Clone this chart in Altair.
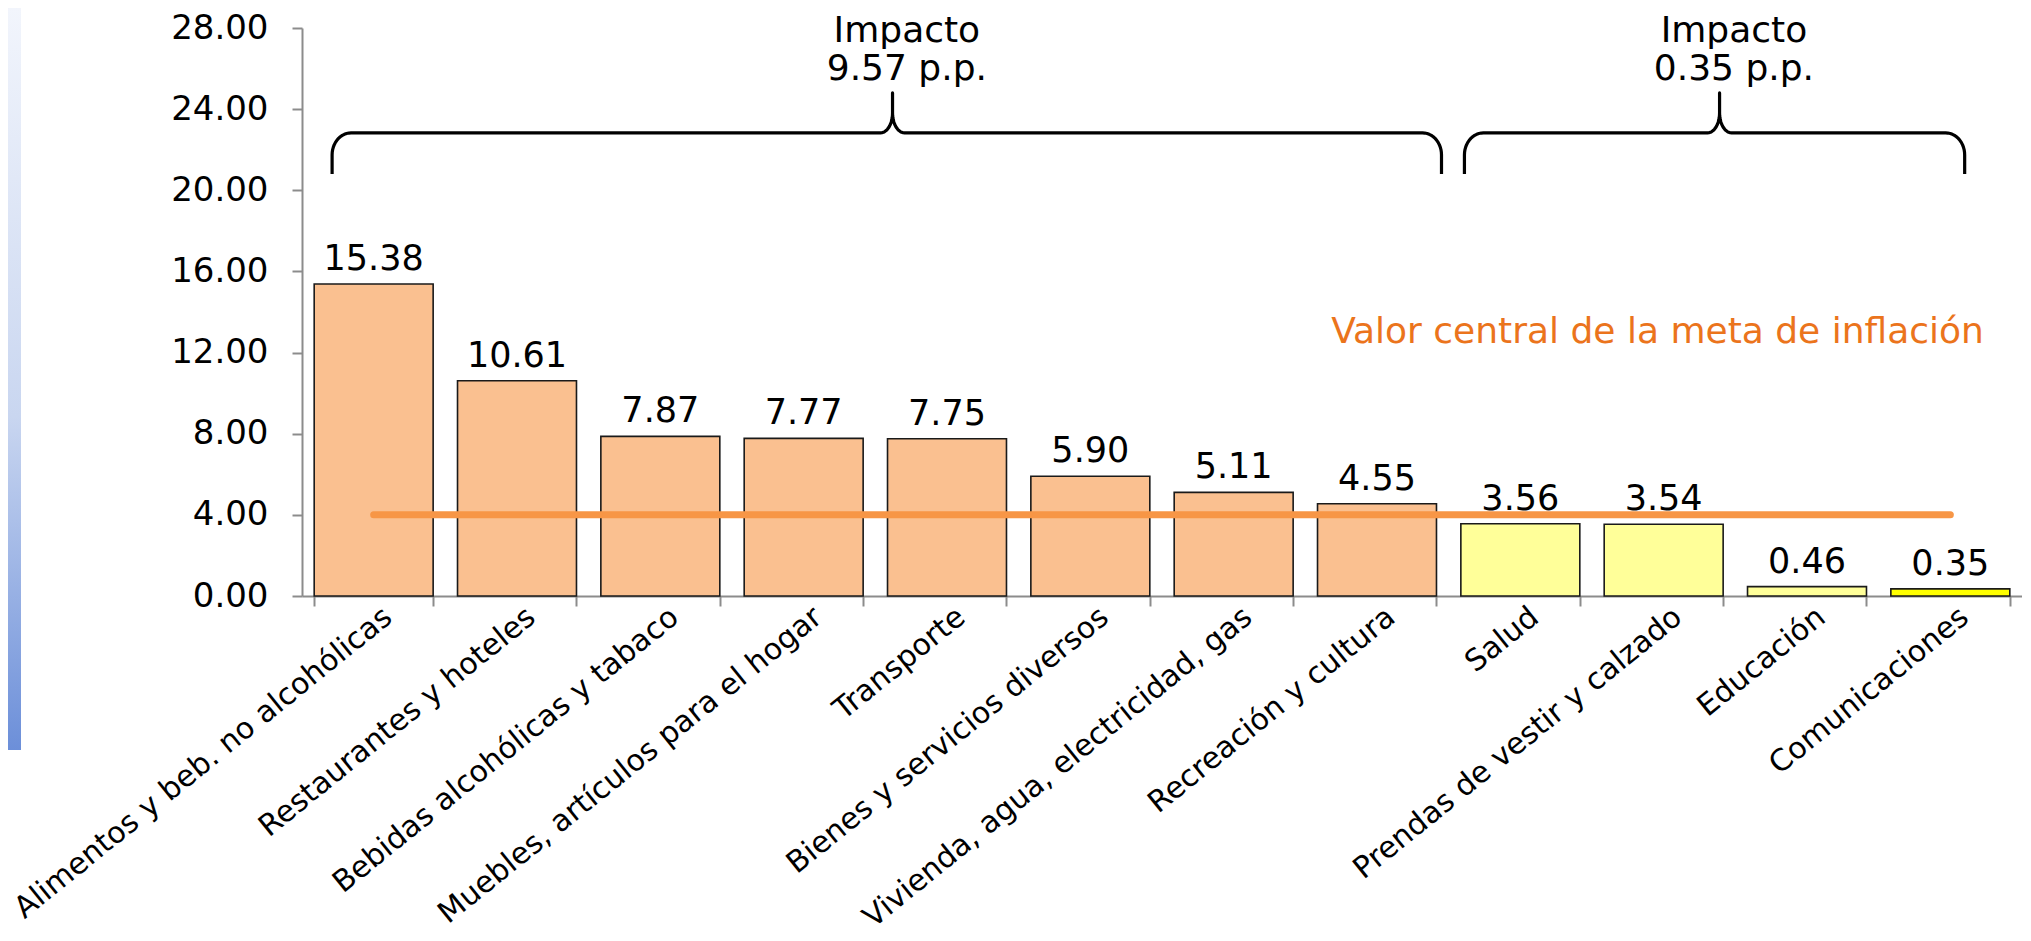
import altair as alt
import numpy as np
import pandas as pd

# ---------------- data ----------------
categorias = [
    "Alimentos y beb. no alcohólicas",
    "Restaurantes y hoteles",
    "Bebidas alcohólicas y tabaco",
    "Muebles, artículos para el hogar",
    "Transporte",
    "Bienes y servicios diversos",
    "Vivienda, agua, electricidad, gas",
    "Recreación y cultura",
    "Salud",
    "Prendas de vestir y calzado",
    "Educación",
    "Comunicaciones",
]
valores = [15.38, 10.61, 7.87, 7.77, 7.75, 5.90, 5.11, 4.55, 3.56, 3.54, 0.46, 0.35]
grupo = ["alto"] * 8 + ["bajo"] * 3 + ["mínimo"]
meta = 4.0
meta_texto = "Valor central de la meta de inflación"
y_ticks = [0, 4, 8, 12, 16, 20, 24, 28]

# braces (annotation) in category units
impacto_titulo = ["Impacto", "Impacto"]
impacto_valor = ["9.57 p.p.", "0.35 p.p."]
llave_inicio = [0.21, 8.11]
llave_fin = [7.95, 11.6]
llave_punta = [4.12, 9.89]

# ---------------- layout ----------------
W, H = 1720, 568
FONT = "DejaVu Sans"
NCAT = len(categorias)
YMAX = 28
ppx = W / NCAT
ppy = H / YMAX

df = pd.DataFrame({"cat": categorias, "valor": valores, "grupo": grupo, "meta": meta})

band_scale = alt.Scale(paddingInner=0.17, paddingOuter=0.085)
xband = alt.X(
    "cat:N",
    sort=categorias,
    scale=band_scale,
    axis=alt.Axis(
        title=None,
        labelAngle=-39,
        labelAlign="right",
        labelBaseline="middle",
        labelOffset=14,
        labelPadding=7,
        labelFontSize=30,
        labelFont=FONT,
        labelColor="black",
        labelLimit=1000,
        tickBand="extent",
        tickSize=10,
        tickWidth=2,
        tickColor="#8c8c8c",
        domainColor="#8c8c8c",
        domainWidth=2,
    ),
)
xband_noaxis = alt.X("cat:N", sort=categorias, scale=band_scale, axis=None)
yscale = alt.Scale(domain=[0, YMAX], nice=False, zero=True)

bars = alt.Chart(df).mark_bar(stroke="#1a1a1a", strokeWidth=1.6).encode(
    x=xband,
    y=alt.Y(
        "valor:Q",
        scale=yscale,
        axis=alt.Axis(
            title=None,
            values=y_ticks,
            format=".2f",
            labelFontSize=34,
            labelFont=FONT,
            labelColor="black",
            labelPadding=24,
            tickSize=10,
            tickWidth=2,
            tickColor="#8c8c8c",
            domainColor="#8c8c8c",
            domainWidth=2,
            grid=False,
        ),
    ),
    color=alt.Color(
        "grupo:N",
        scale=alt.Scale(domain=["alto", "bajo", "mínimo"], range=["#FAC090", "#FFFF99", "#FFFF00"]),
        legend=None,
    ),
)

labels = alt.Chart(df).mark_text(
    baseline="alphabetic", dy=-14, fontSize=35, font=FONT, color="black"
).encode(x=xband_noaxis, y=alt.Y("valor:Q", scale=yscale), text=alt.Text("valor:Q", format=".2f"))

meta_line = alt.Chart(df).mark_line(color="#F79646", strokeWidth=7, strokeCap="round").encode(
    x=xband_noaxis, y=alt.Y("meta:Q", scale=yscale)
)

# ---------------- brace geometry (in data units) ----------------
y_line, y_end, y_tip = 22.83, 20.8, 24.8
rx, ry = 19 / ppx, 22 / ppy
rt, rty = 12 / ppx, 20 / ppy


def arc(cx, cy, a0, a1, rxx, ryy, n=14):
    a = np.radians(np.linspace(a0, a1, n))
    return list(zip(cx + rxx * np.cos(a), cy + ryy * np.sin(a)))


rows = []
for b, (x0, x1, tp) in enumerate(zip(llave_inicio, llave_fin, llave_punta)):
    pts = [(x0, y_end)]
    pts += arc(x0 + rx, y_line - ry, 180, 90, rx, ry)
    pts += arc(tp - rt, y_line + rty, 270, 360, rt, rty)
    pts += [(tp, y_tip), (tp, y_line + rty)]
    pts += arc(tp + rt, y_line + rty, 180, 270, rt, rty)
    pts += arc(x1 - rx, y_line - ry, 90, 0, rx, ry)
    pts += [(x1, y_end)]
    for i, (px, py) in enumerate(pts):
        rows.append({"llave": b, "seq": i, "xq": float(px), "yq": float(py)})
brace_df = pd.DataFrame(rows)

xq_scale = alt.Scale(domain=[0, NCAT], nice=False, zero=False)

braces = alt.Chart(brace_df).mark_line(
    color="black", strokeWidth=3.2, strokeJoin="round", strokeCap="butt"
).encode(
    x=alt.X("xq:Q", scale=xq_scale, axis=None),
    y=alt.Y("yq:Q", scale=yscale),
    detail="llave:N",
    order=alt.Order("seq:Q"),
)

txt_rows = []
for t, v, tp in zip(impacto_titulo, impacto_valor, llave_punta):
    txt_rows.append({"xq": tp + 0.1, "yq": 27.32, "t": t})
    txt_rows.append({"xq": tp + 0.1, "yq": 25.44, "t": v})
impact_txt = alt.Chart(pd.DataFrame(txt_rows)).mark_text(
    fontSize=36, font=FONT, color="black", baseline="alphabetic", align="center"
).encode(
    x=alt.X("xq:Q", scale=xq_scale, axis=None),
    y=alt.Y("yq:Q", scale=yscale),
    text="t:N",
)

meta_txt = alt.Chart(pd.DataFrame({"xq": [7.18], "yq": [12.48], "t": [meta_texto]})).mark_text(
    fontSize=36, font=FONT, color="#EB741C", baseline="alphabetic", align="left"
).encode(
    x=alt.X("xq:Q", scale=xq_scale, axis=None),
    y=alt.Y("yq:Q", scale=yscale),
    text="t:N",
)

# decorative slide strip at the left edge
strip = alt.Chart(pd.DataFrame({"k": [0]})).mark_rect(
    color=alt.Gradient(
        gradient="linear",
        stops=[
            alt.GradientStop(color="#F2F5FC", offset=0),
            alt.GradientStop(color="#C9D6F0", offset=0.55),
            alt.GradientStop(color="#6C8FD9", offset=1),
        ],
        x1=0, x2=0, y1=0, y2=1,
    )
).encode(x=alt.value(-294), x2=alt.value(-281), y=alt.value(-20), y2=alt.value(722))

chart = (
    alt.layer(bars, meta_line, labels, braces, impact_txt, meta_txt, strip)
    .resolve_scale(x="independent")
    .properties(
        width=W,
        height=H,
        padding={"left": 294, "top": 20, "right": 0, "bottom": 337},
        autosize=alt.AutoSizeParams(type="none"),
        background="white",
    )
    .configure_view(strokeWidth=0)
)

chart.save("out.html", embed_options={"renderer": "svg", "actions": False})
